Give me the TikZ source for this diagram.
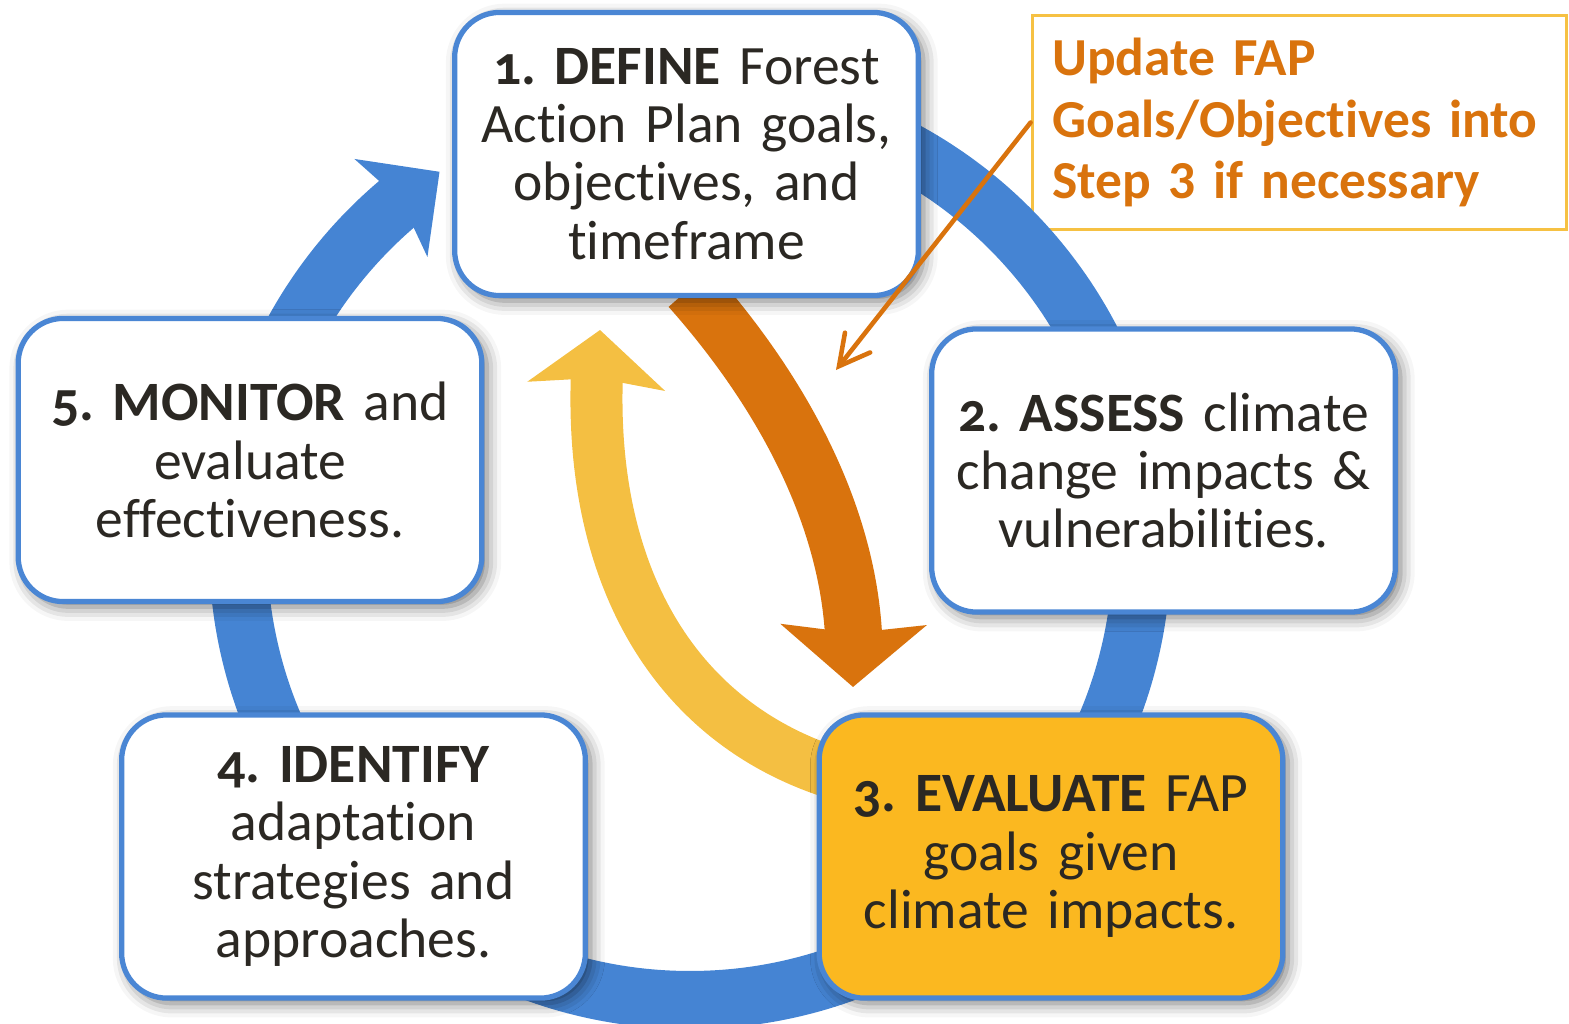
\documentclass[tikz,border=0pt]{standalone}
\usepackage{fontspec}
\setmainfont{Carlito}[Numbers=OldStyle, Ligatures=NoCommon, WordSpace=0.8]
\newfontfamily\notefont{Carlito}[Ligatures=NoCommon, WordSpace=0.8]
\usetikzlibrary{arrows.meta, bending, shadows.blur}
\definecolor{ringblue}{HTML}{4584D3}
\definecolor{edgeblue}{HTML}{4A86D4}
\definecolor{darkorange}{HTML}{D9730D}
\definecolor{lightyellow}{HTML}{F4BF42}
\definecolor{boxyellow}{HTML}{FBB820}
\definecolor{noteedge}{HTML}{F6C143}
\definecolor{ink}{HTML}{2B2823}
\tikzstyle{stage} = [rectangle, rounded corners=0.45cm, draw=edgeblue, line width=1.5pt, fill=white, minimum width=4.58cm, minimum height=2.83cm, text width=4.4cm, align=center, text=ink, font=\frenchspacing\fontsize{15.8}{16.6}\selectfont, blur shadow={shadow xshift=1.5pt, shadow yshift=-1.5pt, shadow blur radius=4pt, shadow opacity=55}]
\tikzstyle{note} = [rectangle, draw=noteedge, line width=1pt, minimum width=5.34cm, minimum height=2.14cm, text width=4.94cm, align=left, text=darkorange, font=\frenchspacing\notefont\bfseries\fontsize{15.2}{17.6}\selectfont]
\tikzstyle{ring} = [line width=0.58cm, ringblue, -{Stealth[length=0.6cm, width=1.2cm, inset=0.12cm]}]
\tikzstyle{bigarrow} = [line width=0.57cm, -{Stealth[length=0.62cm, width=1.44cm, inset=0.08cm]}]
\tikzstyle{pointer} = [line width=1.3pt, darkorange, line cap=round, -{Straight Barb[length=0.3cm, width=0.32cm, line cap=round]}]

\begin{document}
\begin{tikzpicture}[x=0.01cm, y=-0.01cm]
        \useasboundingbox (0,0) rectangle (1569,1024);
        % callout
        \node [note] at (1299.5,122.5) (note) {Update FAP\\ Goals/Objectives into\\ Step 3 if necessary};
        % the cycle
        \draw [ring] (690,548) ++(-90:452) arc [start angle=-90, end angle=236.35, radius=452];
        \draw [bigarrow, lightyellow, line width=0.52cm, -{Stealth[length=0.56cm, width=1.36cm, inset=0.08cm]}] (840,775) .. controls (667,723) and (577,560) .. (600,330);
        \draw [bigarrow, darkorange] (690,288) .. controls (785,395) and (865,537) .. (853,687);
        % the five steps
        \node [stage] at (686.5,154) (define) {\bfseries 1. DEFINE\mdseries{} Forest\\ Action Plan goals,\\ objectives, and\\ timeframe};
        \node [stage] at (1163.5,470.5) (assess) {\bfseries 2. ASSESS\mdseries{} climate\\ change impacts \&\\ vulnerabilities.};
        \node [stage, fill=boxyellow] at (1051,856.5) (evaluate) {\bfseries 3. EVALUATE\mdseries{} FAP\\ goals given\\ climate impacts.};
        \node [stage] at (353.5,856.5) (identify) {\bfseries 4. IDENTIFY\\ \mdseries adaptation\\ strategies and\\ approaches.};
        \node [stage] at (250,460) (monitor) {\bfseries 5. MONITOR\mdseries{} and\\ evaluate\\ effectiveness.};
        \coordinate (aim) at (836,370);
        \draw [pointer] (note.west) -- (aim);
\end{tikzpicture}
\end{document}
